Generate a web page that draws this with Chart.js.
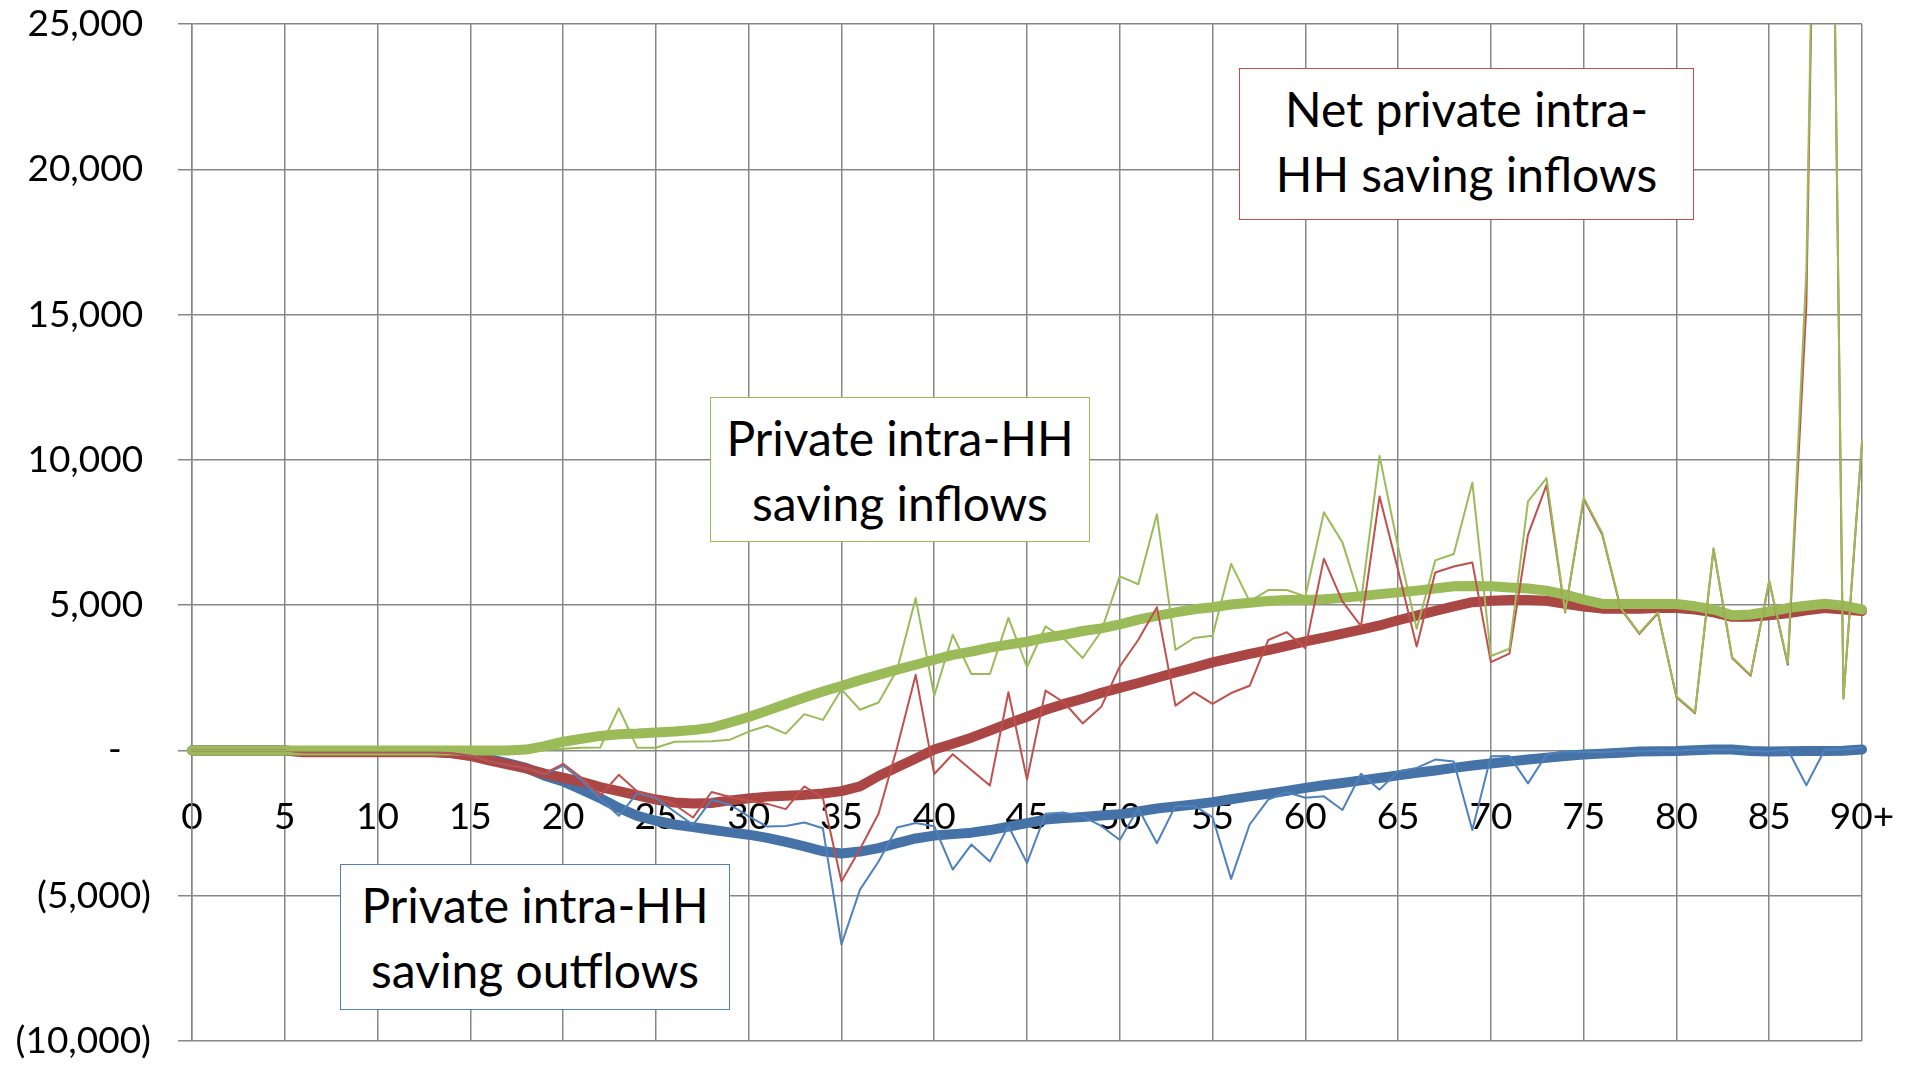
<!DOCTYPE html>
<html>
<head>
<meta charset="utf-8">
<script src="https://cdn.jsdelivr.net/npm/chart.js@4.4.1/dist/chart.umd.min.js"></script>
<style>
html,body{margin:0;padding:0;background:#fff;}
#wrap{position:relative;width:1914px;height:1065px;}
#c{position:absolute;left:0;top:0;}
.note{position:absolute;box-sizing:border-box;background:#fff;font-family:Lato,"Open Sans",sans-serif;font-size:48px;line-height:65px;text-align:center;color:#000;padding-top:7px;white-space:nowrap;}
</style>
</head>
<body>
<div id="wrap">
<canvas id="c" width="1914" height="1065"></canvas>
<div class="note" style="left:1239px;top:68px;width:455px;height:152px;border:1.5px solid #C0504D;">Net private intra-<br>HH saving inflows</div>
<div class="note" style="left:710px;top:397px;width:380px;height:145px;border:1.5px solid #9BBB59;">Private intra-HH<br>saving inflows</div>
<div class="note" style="left:340px;top:864px;width:390px;height:146px;border:1.5px solid #4F81BD;">Private intra-HH<br>saving outflows</div>
</div>
<script>
// Age categories
const ages = ['0','1','2','3','4','5','6','7','8','9','10','11','12','13','14','15','16','17','18','19',
'20','21','22','23','24','25','26','27','28','29','30','31','32','33','34','35','36','37','38','39',
'40','41','42','43','44','45','46','47','48','49','50','51','52','53','54','55','56','57','58','59',
'60','61','62','63','64','65','66','67','68','69','70','71','72','73','74','75','76','77','78','79',
'80','81','82','83','84','85','86','87','88','89','90+'];

// Y axis tick values and labels
const yTickValues = [-10000,-5000,0,5000,10000,15000,20000,25000];
const yTickLabels = ['(10,000)','(5,000)','-','5,000','10,000','15,000','20,000','25,000'];

// Private intra-HH saving inflows (by single age)
const inflowsRaw = [0,0,0,0,0,0,0,0,0,0,0,0,0,0,0,0,0,0,0,20,
60,90,100,1450,90,90,300,310,320,370,650,850,580,1250,1050,2100,1400,1650,2780,5240,
1880,3980,2630,2630,4560,2870,4270,3840,3180,4100,5990,5720,8130,3460,3870,3950,6420,5130,5520,5520,
5300,8200,7160,5110,10130,7000,4190,6540,6760,9220,3250,3500,8570,9370,4780,8700,7480,4900,4040,4750,
1860,1310,6960,3210,2600,5850,3010,16500,53000,1800,10650];

// Net private intra-HH saving inflows (by single age)
const netRaw = [0,0,0,0,0,0,-60,-60,-60,-60,-60,-60,-60,-60,-100,-180,-370,-490,-610,-800,
-460,-940,-1560,-840,-1410,-1590,-1870,-2310,-1430,-1600,-1730,-1840,-2020,-1240,-1640,-4510,-3390,-2180,100,2600,
-810,-130,-670,-1210,2000,-1000,2060,1650,930,1500,2890,3810,4930,1540,2000,1600,1975,2225,3800,4070,
3520,6600,5130,4280,8740,6200,3580,6125,6330,6470,3040,3330,7420,9140,4750,8650,7430,4870,4010,4720,
1830,1280,6930,3180,2570,5820,2950,15300,53000,1790,10600];

// Private intra-HH saving outflows (by single age)
const outflowsRaw = [0,0,0,0,0,0,-60,-60,-60,-60,-60,-60,-60,-60,-100,-180,-370,-490,-610,-820,
-520,-1030,-1660,-2250,-1470,-1640,-2100,-2560,-1700,-1870,-2270,-2620,-2600,-2480,-2680,-6680,-4790,-3820,-2650,-2500,
-2610,-4100,-3240,-3820,-2600,-3880,-2180,-2140,-2270,-2600,-3080,-2000,-3195,-1910,-1900,-2300,-4420,-2550,-1690,-1440,
-1630,-1580,-2050,-800,-1350,-715,-600,-315,-385,-2736,-200,-195,-1133,-140,-25,-50,-50,-30,-30,0,
-10,30,30,30,-10,-30,30,-1200,30,30,90];

// Smoothed series
const inflowsSmooth = [0,0,0,0,0,0,0,0,0,0,0,0,0,0,0,0,0,0,30,150,
300,400,500,560,580,620,650,700,780,960,1150,1370,1600,1820,2030,2220,2420,2600,2780,2950,
3120,3290,3400,3540,3640,3740,3880,3980,4110,4200,4340,4500,4630,4750,4860,4930,5020,5080,5140,5180,
5180,5200,5250,5310,5380,5440,5500,5570,5650,5660,5650,5610,5570,5500,5360,5190,5040,5040,5040,5040,
5040,4960,4850,4650,4680,4780,4900,4980,5050,4980,4850];

const netSmooth = [0,0,0,0,0,0,-60,-60,-60,-60,-60,-60,-60,-60,-100,-190,-340,-480,-620,-800,
-940,-1080,-1260,-1400,-1550,-1690,-1790,-1830,-1810,-1720,-1650,-1590,-1560,-1530,-1480,-1400,-1240,-880,-580,-280,
30,230,440,680,930,1160,1400,1600,1780,1980,2150,2320,2500,2680,2850,3030,3180,3320,3450,3600,
3750,3880,4020,4160,4300,4480,4640,4800,4960,5100,5150,5180,5180,5150,5050,4950,4880,4880,4880,4900,
4900,4850,4750,4600,4600,4650,4720,4820,4900,4850,4800];

const outflowsSmooth = [0,0,0,0,0,0,-50,-50,-50,-50,-50,-50,-50,-50,-90,-150,-290,-440,-600,-870,
-1066,-1353,-1640,-1980,-2250,-2420,-2550,-2640,-2730,-2820,-2900,-3010,-3150,-3300,-3470,-3550,-3480,-3360,-3190,-3030,
-2930,-2880,-2830,-2740,-2620,-2500,-2380,-2330,-2290,-2240,-2200,-2100,-2000,-1930,-1860,-1780,-1680,-1580,-1490,-1390,
-1290,-1200,-1120,-1030,-950,-860,-770,-690,-600,-520,-450,-380,-310,-250,-190,-140,-110,-80,-40,-30,
-20,10,30,30,-20,-40,-30,-20,-20,-10,30];

const GRID = '#878787';
const FONT = 'Lato, "Open Sans", sans-serif';

function thin(data, color, order){
  return {data, borderColor: color, backgroundColor: color, borderWidth: 2, order, fill:false};
}
function thick(data, color, order){
  return {data, borderColor: color, backgroundColor: color, borderWidth: 10, order, fill:false};
}

new Chart(document.getElementById('c'), {
  type: 'line',
  data: {
    labels: ages,
    datasets: [
      thin(inflowsRaw, '#9BBB59', 1),
      thin(netRaw, '#C0504D', 2),
      thin(outflowsRaw, '#4F81BD', 3),
      thick(inflowsSmooth, '#9BBB59', 4),
      thick(netSmooth, '#AA4643', 5),
      thick(outflowsSmooth, '#4572A7', 6)
    ]
  },
  options: {
    responsive: false,
    animation: false,
    layout: {padding: {left: 0, right: 52, top: 24, bottom: 24}, autoPadding: false},
    plugins: {legend: {display: false}, tooltip: {enabled: false}},
    elements: {
      point: {radius: 0, hoverRadius: 0},
      line: {tension: 0, borderJoinStyle: 'round', borderCapStyle: 'round'}
    },
    scales: {
      x: {
        type: 'category',
        position: {y: 0},
        offset: false,
        border: {display: false},
        grid: {
          color: (c) => (c.index % 5 === 0 ? GRID : 'rgba(0,0,0,0)'),
          lineWidth: 1.5,
          drawTicks: false
        },
        ticks: {
          autoSkip: false, maxRotation: 0, minRotation: 0,
          padding: 44, color: '#000',
          font: {family: FONT, size: 37},
          callback: (v, i) => (i % 5 === 0 ? ages[i] : '')
        },
        afterFit: (s) => { s.height = 0; s.paddingLeft = 0; s.paddingRight = 0; s.paddingTop = 0; s.paddingBottom = 0; }
      },
      y: {
        min: -10000, max: 25000,
        border: {display: true, color: GRID, width: 1.5},
        grid: {color: GRID, lineWidth: 1.5, tickLength: 14},
        ticks: {
          stepSize: 5000, padding: 27, color: '#000',
          font: {family: FONT, size: 37},
          callback: (v) => {
            const k = yTickValues.indexOf(v);
            if (k < 0) return '';
            const t = yTickLabels[k];
            if (v > 0) return t + '\u2008';
            if (v === 0) return t + '\u2007\u2008';
            return t;
          }
        },
        afterFit: (s) => { s.width = 192; s.paddingTop = 0; s.paddingBottom = 0; s.paddingLeft = 0; s.paddingRight = 0; }
      }
    }
  }
});
</script>
</body>
</html>
